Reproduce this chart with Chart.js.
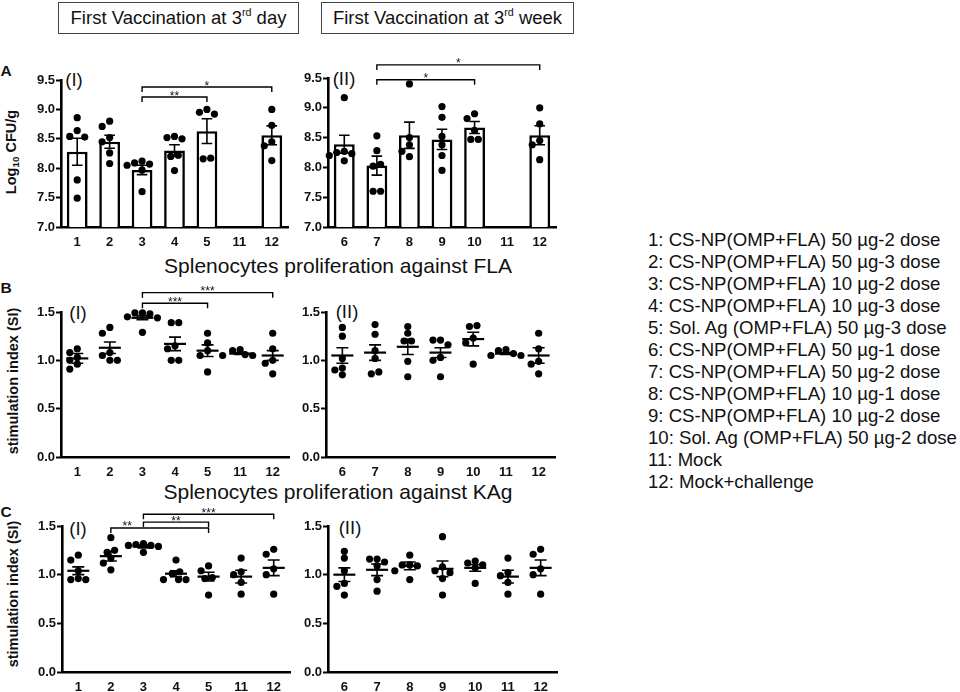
<!DOCTYPE html>
<html><head><meta charset="utf-8">
<script src="https://cdn.jsdelivr.net/npm/chart.js@4.4.1/dist/chart.umd.min.js"></script>
<style>
html,body{margin:0;padding:0;background:#fff;}
body{width:960px;height:692px;position:relative;overflow:hidden;font-family:"Liberation Sans",Arial,sans-serif;color:#111;}
.t{position:absolute;white-space:nowrap;line-height:1;transform:translate(-50%,-50%);}
.hdr{position:absolute;border:1px solid #444;box-sizing:border-box;font-size:18.5px;display:flex;align-items:center;justify-content:center;white-space:nowrap;}
.hdr sup{font-size:0.58em;vertical-align:0;position:relative;top:-0.55em;}
.letter{font-weight:bold;font-size:15.5px;}
.ytitle{position:absolute;white-space:nowrap;line-height:1;font-weight:bold;font-size:14.5px;transform:translate(-50%,-50%) rotate(-90deg);}
.ytitle sub{font-size:0.68em;vertical-align:0;position:relative;top:0.3em;}
.sub{font-size:21px;}
.roman{font-size:18.5px;}
.legend{position:absolute;left:648px;top:229px;font-size:18.6px;line-height:22px;white-space:nowrap;}
canvas{position:absolute;}
</style></head><body>
<div class="hdr" style="left:58px;top:2px;width:241px;height:32px;">First Vaccination at 3<sup>rd</sup>&nbsp;day</div>
<div class="hdr" style="left:321px;top:2px;width:253px;height:32px;">First Vaccination at 3<sup>rd</sup>&nbsp;week</div>
<div class="t letter" style="left:6px;top:70.5px;">A</div>
<div class="t letter" style="left:6px;top:287.5px;">B</div>
<div class="t letter" style="left:6px;top:511.5px;">C</div>
<div class="ytitle" style="left:11px;top:152px;">Log<sub>10</sub> CFU/g</div>
<div class="ytitle" style="left:13px;top:381px;">stimulation index (SI)</div>
<div class="ytitle" style="left:13px;top:594px;">stimulation index (SI)</div>
<div class="t sub" style="left:338px;top:264.5px;">Splenocytes proliferation against FLA</div>
<div class="t sub" style="left:338px;top:491px;">Splenocytes proliferation against KAg</div>
<div class="t roman" style="left:74px;top:80px;">(I)</div>
<div class="t roman" style="left:344px;top:79px;">(II)</div>
<div class="t roman" style="left:78px;top:313px;">(I)</div>
<div class="t roman" style="left:347px;top:312px;">(II)</div>
<div class="t roman" style="left:78px;top:529px;">(I)</div>
<div class="t roman" style="left:350px;top:528px;">(II)</div>
<div class="legend" id="legend"></div>
<script>
// ---------------- DATA ----------------
const groupsI  = ['1','2','3','4','5','11','12'];
const groupsII = ['6','7','8','9','10','11','12'];
const cfuTicks = [7.0, 7.5, 8.0, 8.5, 9.0, 9.5];
const siTicks  = [0.0, 0.5, 1.0, 1.5];

const legendLabels = [
  '1: CS-NP(OMP+FLA) 50 µg-2 dose',
  '2: CS-NP(OMP+FLA) 50 µg-3 dose',
  '3: CS-NP(OMP+FLA) 10 µg-2 dose',
  '4: CS-NP(OMP+FLA) 10 µg-3 dose',
  '5: Sol. Ag (OMP+FLA) 50 µg-3 dose',
  '6: CS-NP(OMP+FLA) 50 µg-1 dose',
  '7: CS-NP(OMP+FLA) 50 µg-2 dose',
  '8: CS-NP(OMP+FLA) 10 µg-1 dose',
  '9: CS-NP(OMP+FLA) 10 µg-2 dose',
  '10: Sol. Ag (OMP+FLA) 50 µg-2 dose',
  '11: Mock',
  '12: Mock+challenge'
];

// Panel A (I): Log10 CFU/g
const cfuIMean = [8.28, 8.45, 7.97, 8.30, 8.63, null, 8.56];
const cfuISem  = [0.23, 0.11, 0.08, 0.10, 0.21, null, 0.16];
const cfuIPoints = [
  [8.86, 8.64, 8.54, 8.53, 7.80, 7.49],
  [8.80, 8.71, 8.52, 8.45, 8.26, 8.08],
  [8.12, 8.09, 8.07, 8.05, 7.97, 7.60],
  [8.54, 8.52, 8.50, 8.22, 8.20, 7.96],
  [9.00, 8.95, 8.92, 8.17, 8.16],
  [],
  [9.00, 8.73, 8.45, 8.38, 8.13]
];
// Panel A (II)
const cfuIIMean = [8.39, 8.03, 8.54, 8.47, 8.67, null, 8.54];
const cfuIISem  = [0.15, 0.16, 0.22, 0.17, 0.10, null, 0.16];
const cfuIIPoints = [
  [9.17, 8.27, 8.25, 8.23, 8.20, 8.11],
  [8.53, 8.28, 8.05, 8.02, 7.60, 7.60],
  [9.40, 8.50, 8.38, 8.27, 8.18],
  [9.02, 8.84, 8.52, 8.38, 8.20, 7.95],
  [8.90, 8.82, 8.62, 8.47, 8.47],
  [],
  [9.00, 8.73, 8.45, 8.38, 8.13]
];
// Panel B (I): SI against FLA
const flaIMean = [1.02, 1.13, 1.44, 1.17, 1.10, 1.07, 1.05];
const flaISem  = [0.05, 0.06, 0.02, 0.07, 0.06, 0.01, 0.05];
const flaIPoints = [
  [1.12, 1.08, 1.03, 1.00, 0.96, 0.91],
  [1.34, 1.28, 1.08, 1.05, 1.00, 1.00],
  [1.49, 1.49, 1.48, 1.45, 1.44, 1.29],
  [1.39, 1.39, 1.15, 1.12, 1.00, 1.00],
  [1.28, 1.18, 1.10, 1.05, 0.88],
  [1.11, 1.10, 1.06, 1.05, 1.05],
  [1.28, 1.12, 1.00, 0.97, 0.86]
];
// Panel B (II)
const flaIIMean = [1.05, 1.08, 1.14, 1.08, 1.22, 1.07, 1.05];
const flaIISem  = [0.08, 0.08, 0.08, 0.05, 0.07, 0.01, 0.08];
const flaIIPoints = [
  [1.34, 1.25, 1.02, 0.92, 0.90, 0.85],
  [1.37, 1.27, 1.10, 1.02, 0.88, 0.86],
  [1.35, 1.28, 1.20, 1.20, 0.99, 0.83],
  [1.21, 1.21, 1.16, 1.03, 1.00, 0.83],
  [1.36, 1.35, 1.23, 1.18, 0.96],
  [1.11, 1.10, 1.07, 1.05, 1.05],
  [1.28, 1.12, 0.99, 0.96, 0.86]
];
// Panel C (I): SI against KAg
const kagIMean = [1.04, 1.19, 1.29, 1.01, 0.98, 0.98, 1.07];
const kagISem  = [0.04, 0.05, 0.015, 0.03, 0.045, 0.065, 0.08];
const kagIPoints = [
  [1.20, 1.15, 1.04, 0.96, 0.95, 0.95],
  [1.38, 1.25, 1.23, 1.17, 1.12, 1.05],
  [1.32, 1.31, 1.30, 1.30, 1.29, 1.23],
  [1.15, 1.03, 1.01, 0.95, 0.95, 0.95],
  [1.09, 1.04, 0.97, 0.96, 0.79],
  [1.17, 1.03, 1.00, 0.92, 0.80],
  [1.26, 1.21, 1.06, 1.00, 0.80]
];
// Panel C (II)
const kagIIMean = [1.00, 1.05, 1.09, 1.06, 1.07, 0.98, 1.07];
const kagIISem  = [0.07, 0.06, 0.04, 0.08, 0.035, 0.065, 0.08];
const kagIIPoints = [
  [1.24, 1.17, 1.04, 0.91, 0.88, 0.79],
  [1.16, 1.16, 1.13, 1.09, 0.95, 0.83],
  [1.20, 1.10, 1.10, 1.09, 1.04, 0.95],
  [1.39, 1.08, 1.04, 1.02, 0.96, 0.79],
  [1.14, 1.12, 1.10, 1.07, 0.91],
  [1.17, 1.02, 0.99, 0.92, 0.80],
  [1.26, 1.21, 1.06, 1.00, 0.80]
];

// significance comparisons: [from, to, bracket level (axis units), label, label between]
const sigAI  = [['3','12',9.38,'*'], ['3','5',9.21,'**']];
const sigAII = [['7','12',9.72,'*'], ['7','10',9.47,'*']];
const sigBI  = [['3','12',1.70,'***'], ['3','5',1.59,'***']];
const sigCI  = [['3','12',1.62,'***'], ['3','5',1.54,'**'], ['2','5',1.48,'**',['2','3']]];

// ---------------- RENDER ----------------
document.getElementById('legend').innerHTML = legendLabels.map(s => '<div>' + s + '</div>').join('');

const FONT = '"Liberation Sans", Arial, sans-serif';

const panels = [
  {labels: groupsI,  ticks: cfuTicks, mean: cfuIMean,  sem: cfuISem,  points: cfuIPoints,  bars: true,  sig: sigAI,  box: {left: 61,  right: 288, top: 80,  bottom: 227}},
  {labels: groupsII, ticks: cfuTicks, mean: cfuIIMean, sem: cfuIISem, points: cfuIIPoints, bars: true,  sig: sigAII, box: {left: 328, right: 556, top: 78,  bottom: 227}},
  {labels: groupsI,  ticks: siTicks,  mean: flaIMean,  sem: flaISem,  points: flaIPoints,  bars: false, sig: sigBI,  box: {left: 61,  right: 289, top: 312, bottom: 457}},
  {labels: groupsII, ticks: siTicks,  mean: flaIIMean, sem: flaIISem, points: flaIIPoints, bars: false, sig: [],     box: {left: 326, right: 555, top: 312, bottom: 457}},
  {labels: groupsI,  ticks: siTicks,  mean: kagIMean,  sem: kagISem,  points: kagIPoints,  bars: false, sig: sigCI,  box: {left: 62,  right: 290, top: 526, bottom: 672}},
  {labels: groupsII, ticks: siTicks,  mean: kagIIMean, sem: kagIISem, points: kagIIPoints, bars: false, sig: [],     box: {left: 328, right: 557, top: 526, bottom: 672}}
];

const swarmPlugin = {
  id: 'swarm',
  afterDatasetsUpdate(chart) {
    const STEP = 7.5, MIN_D = 6.6;
    chart.data.datasets.forEach((ds, di) => {
      if (ds.type !== 'scatter') return;
      const meta = chart.getDatasetMeta(di);
      const groups = {};
      meta.data.forEach(el => { const k = Math.round(el.x); (groups[k] = groups[k] || []).push(el); });
      Object.values(groups).forEach(list => {
        list.sort((a, b) => a.y - b.y);
        const center = list[0].x;
        const placed = [];
        list.forEach(el => {
          const cands = [0];
          for (let k = 1; k < 10; k++) cands.push(-k * STEP, k * STEP);
          for (const dx of cands) {
            const nx = center + dx;
            if (placed.every(q => Math.hypot(q.x - nx, q.y - el.y) >= MIN_D)) {
              el.x = nx; placed.push(el); break;
            }
          }
        });
        // centre rows of points that share (almost) the same level
        const done = new Set();
        placed.forEach(el => {
          if (done.has(el)) return;
          const row = placed.filter(q => !done.has(q) && Math.abs(q.y - el.y) < 2);
          row.forEach(q => done.add(q));
          if (row.length < 2) return;
          const m = row.reduce((s, q) => s + (q.x - center), 0) / row.length;
          if (Math.abs(m) < 0.5) return;
          const others = placed.filter(q => !row.includes(q));
          const ok = row.every(q => others.every(o => Math.hypot(o.x - (q.x - m), o.y - q.y) >= MIN_D));
          if (ok) row.forEach(q => { q.x -= m; });
        });
      });
    });
  }
};

function errPlugin(p) {
  return {
    id: 'errbars',
    afterDatasetsDraw(chart) {
      const {ctx, scales: {x, y}} = chart;
      const CAP = p.bars ? 5.3 : 6, MW = 11;
      ctx.save();
      ctx.strokeStyle = '#000';
      p.mean.forEach((m, i) => {
        if (m == null) return;
        const px = x.getPixelForValue(i);
        const ym = y.getPixelForValue(m);
        const yh = y.getPixelForValue(m + p.sem[i]);
        const yl = y.getPixelForValue(m - p.sem[i]);
        ctx.lineWidth = 1.6;
        ctx.beginPath();
        ctx.moveTo(px, yh); ctx.lineTo(px, yl);
        ctx.moveTo(px - CAP, yh); ctx.lineTo(px + CAP, yh);
        ctx.moveTo(px - CAP, yl); ctx.lineTo(px + CAP, yl);
        ctx.stroke();
        if (!p.bars) {
          ctx.lineWidth = 2.2;
          ctx.beginPath();
          ctx.moveTo(px - MW, ym); ctx.lineTo(px + MW, ym);
          ctx.stroke();
        }
      });
      ctx.restore();
    }
  };
}

function sigPlugin(p) {
  return {
    id: 'sig',
    afterDraw(chart) {
      const {ctx, scales: {x, y}} = chart;
      ctx.save();
      ctx.strokeStyle = '#000';
      ctx.fillStyle = '#111';
      ctx.lineWidth = 1.4;
      ctx.font = '12px ' + FONT;
      ctx.textAlign = 'center';
      ctx.textBaseline = 'alphabetic';
      p.sig.forEach(([a, b, lvl, lab, between]) => {
        const x1 = x.getPixelForValue(p.labels.indexOf(a));
        const x2 = x.getPixelForValue(p.labels.indexOf(b));
        const yy = y.getPixelForValue(lvl);
        ctx.beginPath();
        ctx.moveTo(x1, yy + 5); ctx.lineTo(x1, yy); ctx.lineTo(x2, yy); ctx.lineTo(x2, yy + 5);
        ctx.stroke();
        let lx = (x1 + x2) / 2;
        if (between) lx = (x.getPixelForValue(p.labels.indexOf(between[0])) + x.getPixelForValue(p.labels.indexOf(between[1]))) / 2;
        ctx.fillText(lab, lx, yy + 2.5);
      });
      ctx.restore();
    }
  };
}

panels.forEach(p => {
  const PAD_TOP = 44, Y_W = 52, X_H = 30, PAD_R = 12;
  const bx = p.box;
  const W = bx.right - bx.left + Y_W + PAD_R;
  const H = bx.bottom - bx.top + PAD_TOP + X_H;
  const cv = document.createElement('canvas');
  cv.width = W; cv.height = H;
  cv.style.left = (bx.left - Y_W) + 'px';
  cv.style.top = (bx.top - PAD_TOP) + 'px';
  cv.style.width = W + 'px';
  cv.style.height = H + 'px';
  document.body.appendChild(cv);

  const pts = [];
  p.points.forEach((arr, gi) => arr.forEach(v => pts.push({x: p.labels[gi], y: v})));
  const datasets = [];
  if (p.bars) {
    datasets.push({type: 'bar', data: p.mean, backgroundColor: '#fff', borderColor: '#000',
      borderWidth: 2.6, barPercentage: 0.64, categoryPercentage: 1, order: 2});
  }
  datasets.push({type: 'scatter', data: pts, backgroundColor: '#000', borderWidth: 0,
    pointRadius: 3.6, pointHoverRadius: 3.6, order: 1, clip: false});

  new Chart(cv, {
    type: 'bar',
    data: {labels: p.labels, datasets},
    options: {
      responsive: false,
      animation: false,
      events: [],
      layout: {padding: {top: PAD_TOP, left: 0, right: PAD_R, bottom: 0}},
      plugins: {legend: {display: false}, tooltip: {enabled: false}},
      scales: {
        x: {
          type: 'category', offset: true,
          grid: {display: false, drawTicks: false},
          border: {display: true, color: '#000', width: 2.6},
          ticks: {color: '#111', font: {family: FONT, size: 13, weight: 'bold'}, padding: 8, maxRotation: 0, autoSkip: false},
          afterFit(s) { s.height = X_H; }
        },
        y: {
          min: p.ticks[0], max: p.ticks[p.ticks.length - 1],
          grid: {display: true, drawOnChartArea: false, drawTicks: true, tickLength: 5, tickWidth: 2, tickColor: '#000', color: '#000'},
          border: {display: true, color: '#000', width: 2.6},
          ticks: {stepSize: p.ticks[1] - p.ticks[0], color: '#111', padding: 1,
            font: {family: FONT, size: 13, weight: 'bold'},
            callback: v => Number(v).toFixed(1)},
          afterFit(s) { s.width = Y_W; }
        }
      }
    },
    plugins: [swarmPlugin, errPlugin(p), sigPlugin(p)]
  });
});
</script>
</body></html>
